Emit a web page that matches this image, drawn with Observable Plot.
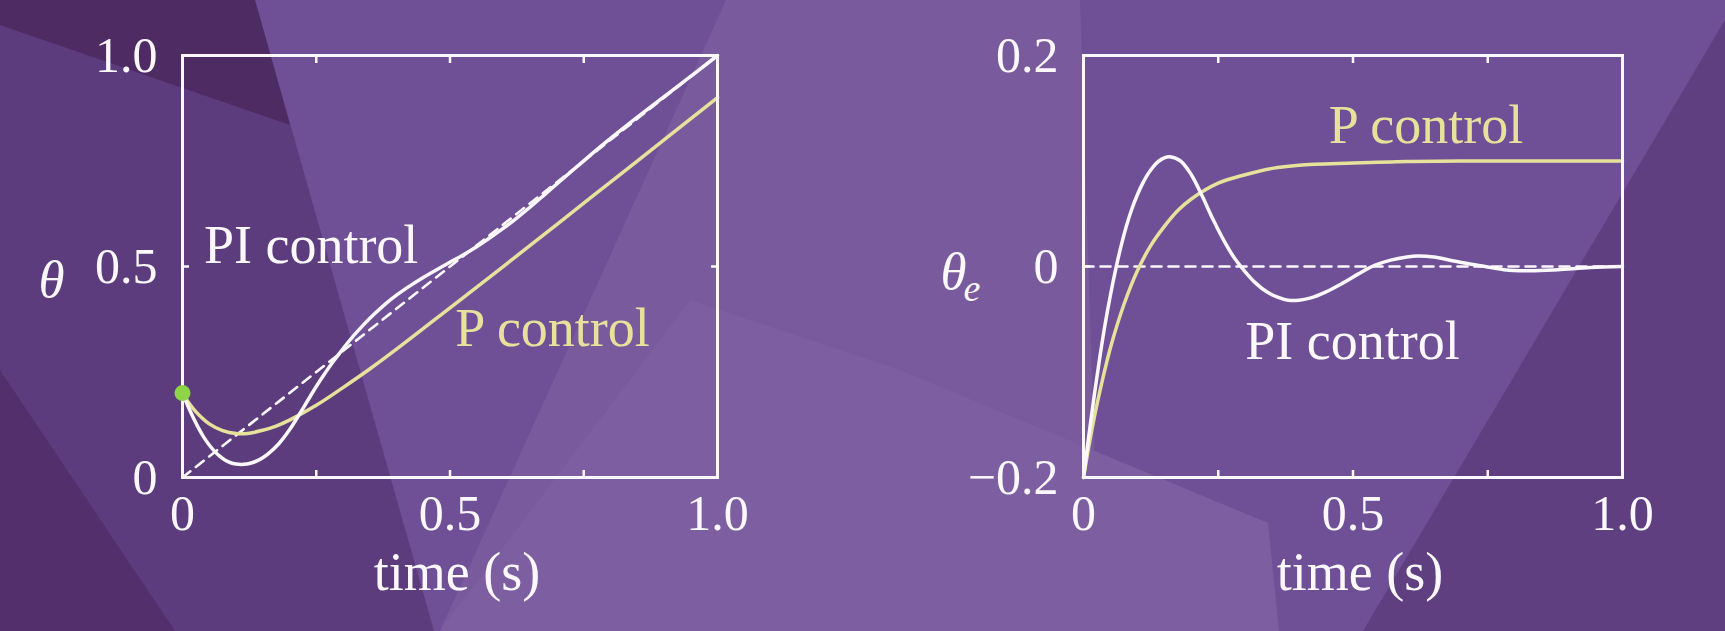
<!DOCTYPE html>
<html><head><meta charset="utf-8">
<script src="https://cdn.jsdelivr.net/npm/d3@7"></script>
<script src="https://cdn.jsdelivr.net/npm/@observablehq/plot@0.6"></script>
<style>
html,body{margin:0;padding:0;width:1725px;height:631px;overflow:hidden;background:#6f4f96;}
.facet{position:absolute;left:0;top:0;width:1725px;height:631px;}
#left,#right{position:absolute;top:0;}
#left{left:0px}
#right{left:860px}
svg{overflow:visible}
</style></head><body>
<div id="bg"></div>
<div id="left"></div><div id="right"></div>
<script>
// ---- data ----
const timePI = [0,0.01,0.02,0.03,0.04,0.05,0.06,0.07,0.08,0.09,0.10,0.11,0.12,0.13,0.14,0.15,0.16,0.18,0.20,0.22,0.24,0.26,0.28,0.30,0.32,0.34,0.36,0.38,0.40,0.42,0.45,0.48,0.51,0.54,0.57,0.60,0.62,0.65,0.68,0.71,0.745,0.78,0.83,0.88,0.94,1.0];
const thetaPI = [0.200,0.170,0.142,0.117,0.095,0.077,0.062,0.050,0.041,0.035,0.032,0.031,0.032,0.035,0.040,0.047,0.056,0.080,0.113,0.153,0.195,0.235,0.272,0.305,0.336,0.364,0.389,0.412,0.432,0.450,0.474,0.496,0.517,0.539,0.564,0.591,0.610,0.641,0.674,0.707,0.745,0.783,0.834,0.883,0.941,1.000];
const errorPI = [-0.200,-0.160,-0.122,-0.087,-0.055,-0.027,-0.002,0.020,0.039,0.055,0.068,0.079,0.088,0.095,0.100,0.103,0.104,0.100,0.087,0.067,0.045,0.025,0.008,-0.005,-0.016,-0.024,-0.029,-0.032,-0.032,-0.030,-0.024,-0.016,-0.007,0.001,0.006,0.009,0.010,0.009,0.006,0.003,0.000,-0.003,-0.004,-0.003,-0.001,0.000];
const timeP = [0,0.01,0.02,0.03,0.05,0.075,0.1,0.125,0.15,0.175,0.2,0.25,0.3,0.35,0.4,0.5,0.6,0.7,0.8,0.9,1.0];
const thetaP = [0.200,0.180,0.163,0.149,0.127,0.111,0.104,0.105,0.112,0.122,0.136,0.171,0.213,0.257,0.304,0.402,0.5005,0.600,0.700,0.800,0.900];
const errorP = [-0.200,-0.170,-0.143,-0.119,-0.077,-0.036,-0.004,0.020,0.038,0.053,0.064,0.079,0.087,0.093,0.096,0.098,0.0995,0.100,0.100,0.100,0.100];
const refTime = [0, 1];
const refTheta = [0, 1];
const refError = [0, 0];
const startPoint = [{t: 0, v: 0.2}];

const xTicks = [0, 0.5, 1];
const xTickLabels = ["0", "0.5", "1.0"];
const xMinorTicks = [0.25, 0.5, 0.75];
const leftYTicks = [0, 0.5, 1];
const leftYTickLabels = ["0", "0.5", "1.0"];
const leftYMinorTicks = [0.5];
const rightYTicks = [-0.2, 0, 0.2];
const rightYTickLabels = ["\u22120.2", "0", "0.2"];
const rightYMinorTicks = [0];

const leftNotes = [{t: 0.04, v: 0.55, text: "PI control", kind: "PI"}, {t: 0.51, v: 0.353, text: "P control", kind: "P"}];
const rightNotes = [{t: 0.455, v: 0.133, text: "P control", kind: "P"}, {t: 0.30, v: -0.071, text: "PI control", kind: "PI"}];
const xLabel = "time (s)";

// ---- styling ----
const WHITE = "#fbf8fc";
const YELLOW = "#e6e29c";
const GREEN = "#8ed449";
const FONT = "'Liberation Serif', 'Times New Roman', serif";

// background facets (decoration only)
const facets = [
  {p: "726px 0,1080px 0,1100px 631px,440px 631px", c: "#795a9d"},
  {p: "690px 300px,900px 370px,1268px 523px,1279px 631px,440px 631px", c: "#7d5fa1"},
  {p: "0 0,255px 0,434px 631px,0 631px", c: "#5c3c7c"},
  {p: "0 0,255px 0,290px 125px,0 25px", c: "#4f2b64"},
  {p: "0 370px,175px 631px,0 631px", c: "#53306b"},
  {p: "1725px 20px,1725px 631px,1363px 631px", c: "#5f3f80"}
];
const bg = document.getElementById("bg");
for (const f of facets) {
  const d = document.createElement("div");
  d.className = "facet";
  d.style.background = f.c;
  d.style.clipPath = `polygon(${f.p})`;
  bg.appendChild(d);
}

const zip = (ts, vs) => ts.map((t, i) => ({t, v: vs[i]}));
const fmt = (ticks, labels) => { const m = new Map(ticks.map((d, i) => [d, labels[i]])); return d => m.get(d); };

function panel({width, marginLeft, marginRight, yDomain, yTicks, yTickLabels, yMinor, ref, pData, piData, notes, dot, yLabelMarks}) {
  return Plot.plot({
    width, height: 631,
    marginTop: 55, marginBottom: 154, marginLeft, marginRight,
    x: {domain: [0, 1], label: null},
    y: {domain: yDomain, label: null},
    style: {background: "transparent", color: WHITE, fontFamily: FONT, overflow: "visible"},
    marks: [
      Plot.line(ref, {x: "t", y: "v", stroke: WHITE, strokeWidth: 2.6, strokeDasharray: "10,7"}),
      Plot.line(pData, {x: "t", y: "v", stroke: YELLOW, strokeWidth: 3.5, curve: "catmull-rom"}),
      Plot.line(piData, {x: "t", y: "v", stroke: WHITE, strokeWidth: 3.5, curve: "catmull-rom"}),
      Plot.frame({stroke: WHITE, strokeWidth: 3}),
      Plot.axisX(xMinorTicks, {anchor: "bottom", tickSize: -7, fill: "none", stroke: WHITE, strokeWidth: 2.5}),
      Plot.axisX(xMinorTicks, {anchor: "top", tickSize: -7, fill: "none", stroke: WHITE, strokeWidth: 2.5}),
      Plot.axisY(yMinor, {anchor: "left", tickSize: -7, fill: "none", stroke: WHITE, strokeWidth: 2.5}),
      Plot.axisY(yMinor, {anchor: "right", tickSize: -7, fill: "none", stroke: WHITE, strokeWidth: 2.5}),
      Plot.axisX(xTicks, {anchor: "bottom", tickSize: 0, tickPadding: 17, tickFormat: fmt(xTicks, xTickLabels), fontSize: 50, fill: WHITE}),
      Plot.axisY(yTicks, {anchor: "left", tickSize: 0, tickPadding: 25, tickFormat: fmt(yTicks, yTickLabels), fontSize: 50, fill: WHITE}),
      Plot.text([xLabel], {frameAnchor: "bottom", dx: 7, dy: 95, lineAnchor: "middle", fontSize: 54, fill: WHITE}),
      ...yLabelMarks,
      Plot.text(notes, {x: "t", y: "v", text: "text", textAnchor: "start", fontSize: 54, fill: d => d.kind === "P" ? YELLOW : WHITE}),
      dot ? Plot.dot(dot, {x: "t", y: "v", r: 8, fill: GREEN}) : null
    ]
  });
}

document.getElementById("left").appendChild(panel({
  width: 860, marginLeft: 182, marginRight: 143,
  yDomain: [0, 1], yTicks: leftYTicks, yTickLabels: leftYTickLabels, yMinor: leftYMinorTicks,
  ref: zip(refTime, refTheta), pData: zip(timeP, thetaP), piData: zip(timePI, thetaPI),
  notes: leftNotes, dot: startPoint,
  yLabelMarks: [Plot.text(["\u03b8"], {frameAnchor: "left", dx: -144, dy: 14, fontSize: 53, fontStyle: "italic", fill: WHITE})]
}));

document.getElementById("right").appendChild(panel({
  width: 865, marginLeft: 223, marginRight: 103,
  yDomain: [-0.2, 0.2], yTicks: rightYTicks, yTickLabels: rightYTickLabels, yMinor: rightYMinorTicks,
  ref: zip(refTime, refError), pData: zip(timeP, errorP), piData: zip(timePI, errorPI),
  notes: rightNotes, dot: null,
  yLabelMarks: [
    Plot.text(["\u03b8"], {frameAnchor: "left", dx: -143, dy: 6, fontSize: 53, fontStyle: "italic", fill: WHITE}),
    Plot.text(["e"], {frameAnchor: "left", dx: -120, dy: 22, fontSize: 38, fontStyle: "italic", textAnchor: "start", fill: WHITE})
  ]
}));
</script>
</body></html>
